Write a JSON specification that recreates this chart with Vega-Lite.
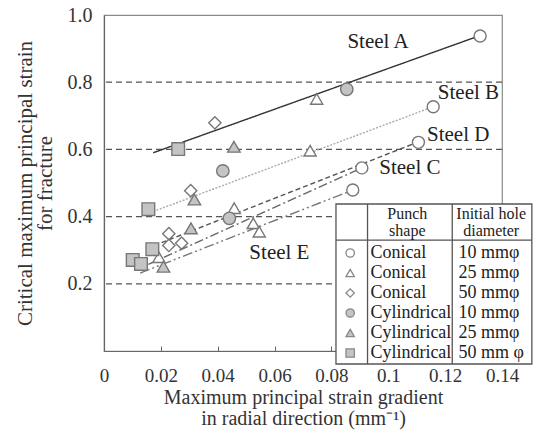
{
  "$schema": "https://vega.github.io/schema/vega-lite/v6.json",
  "width": 398,
  "height": 336,
  "autosize": {"type": "none"},
  "padding": {"left": 104, "top": 15, "right": 37, "bottom": 95},
  "background": "white",
  "config": {
    "font": "Liberation Serif",
    "view": {"stroke": "#8a8a8a", "strokeWidth": 1.2},
    "axis": {"labelFont": "Liberation Serif", "titleFont": "Liberation Serif", "labelColor": "#333", "titleColor": "#333", "titleFontWeight": "normal", "domainColor": "#666", "domainWidth": 1.2, "grid": false, "zindex": 0}
  },
  "datasets": {
    "grid": [{"gy": 0.2}, {"gy": 0.4}, {"gy": 0.6}, {"gy": 0.8}],
    "lines": [
      {"steel": "A", "x": 0.0173, "y": 0.590}, {"steel": "A", "x": 0.132, "y": 0.938},
      {"steel": "B", "x": 0.0173, "y": 0.415}, {"steel": "B", "x": 0.1158, "y": 0.727},
      {"steel": "D", "x": 0.015, "y": 0.305}, {"steel": "D", "x": 0.1105, "y": 0.622},
      {"steel": "C", "x": 0.0156, "y": 0.258}, {"steel": "C", "x": 0.0907, "y": 0.545},
      {"steel": "E", "x": 0.0127, "y": 0.232}, {"steel": "E", "x": 0.0875, "y": 0.479}
    ],
    "points": [
      {"x": 0.1323, "y": 0.9375, "kind": "Conical 10"},
      {"x": 0.1158, "y": 0.727, "kind": "Conical 10"},
      {"x": 0.1106, "y": 0.621, "kind": "Conical 10"},
      {"x": 0.0907, "y": 0.545, "kind": "Conical 10"},
      {"x": 0.0875, "y": 0.479, "kind": "Conical 10"},
      {"x": 0.0748, "y": 0.750, "kind": "Conical 25"},
      {"x": 0.0725, "y": 0.596, "kind": "Conical 25"},
      {"x": 0.0458, "y": 0.425, "kind": "Conical 25"},
      {"x": 0.0525, "y": 0.380, "kind": "Conical 25"},
      {"x": 0.0546, "y": 0.355, "kind": "Conical 25"},
      {"x": 0.0193, "y": 0.279, "kind": "Conical 25"},
      {"x": 0.0390, "y": 0.679, "kind": "Conical 50"},
      {"x": 0.0305, "y": 0.477, "kind": "Conical 50"},
      {"x": 0.0228, "y": 0.349, "kind": "Conical 50"},
      {"x": 0.0228, "y": 0.314, "kind": "Conical 50"},
      {"x": 0.0273, "y": 0.321, "kind": "Conical 50"},
      {"x": 0.0854, "y": 0.779, "kind": "Cylindrical 10"},
      {"x": 0.0418, "y": 0.536, "kind": "Cylindrical 10"},
      {"x": 0.0441, "y": 0.395, "kind": "Cylindrical 10"},
      {"x": 0.0457, "y": 0.608, "kind": "Cylindrical 25"},
      {"x": 0.0318, "y": 0.451, "kind": "Cylindrical 25"},
      {"x": 0.0306, "y": 0.365, "kind": "Cylindrical 25"},
      {"x": 0.0209, "y": 0.251, "kind": "Cylindrical 25"},
      {"x": 0.0261, "y": 0.601, "kind": "Cylindrical 50"},
      {"x": 0.0156, "y": 0.422, "kind": "Cylindrical 50"},
      {"x": 0.0170, "y": 0.303, "kind": "Cylindrical 50"},
      {"x": 0.0101, "y": 0.271, "kind": "Cylindrical 50"},
      {"x": 0.0130, "y": 0.259, "kind": "Cylindrical 50"}
    ],
    "labels": [
      {"x": 0.0964, "y": 0.920, "t": "Steel A"},
      {"x": 0.1282, "y": 0.767, "t": "Steel B"},
      {"x": 0.1246, "y": 0.643, "t": "Steel D"},
      {"x": 0.1076, "y": 0.544, "t": "Steel C"},
      {"x": 0.0617, "y": 0.291, "t": "Steel E"}
    ],
    "legendBox": [{"x1": 0.0816, "x2": 0.1505, "y1": -0.0387, "y2": 0.4375}],
    "legendRules": [
      {"x1": 0.0927, "x2": 0.0927, "y1": -0.0387, "y2": 0.4375},
      {"x1": 0.1225, "x2": 0.1225, "y1": -0.0387, "y2": 0.4375},
      {"x1": 0.0816, "x2": 0.1505, "y1": 0.330, "y2": 0.330}
    ],
    "legendRows": [
      {"kind": "Conical 10", "y": 0.2917, "shape": "Conical", "diam": "10 mmφ"},
      {"kind": "Conical 25", "y": 0.2320, "shape": "Conical", "diam": "25 mmφ"},
      {"kind": "Conical 50", "y": 0.1726, "shape": "Conical", "diam": "50 mmφ"},
      {"kind": "Cylindrical 10", "y": 0.1130, "shape": "Cylindrical", "diam": "10 mmφ"},
      {"kind": "Cylindrical 25", "y": 0.0536, "shape": "Cylindrical", "diam": "25 mmφ"},
      {"kind": "Cylindrical 50", "y": -0.0060, "shape": "Cylindrical", "diam": "50 mm φ"}
    ],
    "legendHead": [
      {"x": 0.1067, "y": 0.4077, "t": "Punch"},
      {"x": 0.1067, "y": 0.3580, "t": "shape"},
      {"x": 0.1362, "y": 0.4077, "t": "Initial hole"},
      {"x": 0.1362, "y": 0.3580, "t": "diameter"}
    ]
  },
  "layer": [
    {
      "data": {"name": "grid"},
      "mark": {"type": "rule", "color": "#555", "strokeWidth": 1.3, "strokeDash": [6, 4]},
      "encoding": {
        "y": {"field": "gy", "type": "quantitative", "scale": {"domain": [0, 1], "nice": false, "zero": false},
          "axis": {"values": [0.2, 0.4, 0.6, 0.8, 1.0], "format": ".1f", "ticks": false, "labelFontSize": 20, "labelPadding": 12,
            "title": ["Critical maximum principal strain", "for fracture"], "titleFontSize": 21, "titleLineHeight": 20, "titlePadding": 12}}
      }
    },
    {
      "data": {"name": "lines"},
      "mark": {"type": "line", "strokeWidth": 1.4},
      "encoding": {
        "x": {"field": "x", "type": "quantitative", "scale": {"domain": [0, 0.14], "nice": false, "zero": false},
          "axis": {"values": [0, 0.02, 0.04, 0.06, 0.08, 0.1, 0.12, 0.14], "format": "~g", "tickSize": -5, "tickColor": "#666", "labelFontSize": 19, "labelPadding": 20, "labelFlush": false,
            "title": ["Maximum principal strain gradient", "in radial direction (mm⁻¹)"], "titleFontSize": 20, "titleLineHeight": 21, "titlePadding": 2}},
        "y": {"field": "y", "type": "quantitative", "scale": {"domain": [0, 1], "nice": false, "zero": false}},
        "detail": {"field": "steel"},
        "color": {"field": "steel", "type": "nominal", "legend": null,
          "scale": {"domain": ["A", "B", "C", "D", "E"], "range": ["#333333", "#aaaaaa", "#666666", "#555555", "#777777"]}},
        "strokeDash": {"field": "steel", "type": "nominal", "legend": null,
          "scale": {"domain": ["A", "B", "C", "D", "E"], "range": [[1, 0], [2, 1.5], [9, 3, 2, 3], [5, 3], [10, 3, 2, 3, 2, 3]]}}
      }
    },
    {
      "data": {"name": "points"},
      "mark": {"type": "point", "filled": false, "stroke": "#777", "strokeWidth": 1.4, "opacity": 1},
      "encoding": {
        "x": {"field": "x", "type": "quantitative", "scale": {"domain": [0, 0.14], "nice": false, "zero": false}},
        "y": {"field": "y", "type": "quantitative", "scale": {"domain": [0, 1], "nice": false, "zero": false}},
        "shape": {"field": "kind", "type": "nominal", "legend": null,
          "scale": {"domain": ["Conical 10", "Conical 25", "Conical 50", "Cylindrical 10", "Cylindrical 25", "Cylindrical 50"], "range": ["circle", "triangle-up", "diamond", "circle", "triangle-up", "square"]}},
        "fill": {"field": "kind", "type": "nominal", "legend": null,
          "scale": {"domain": ["Conical 10", "Conical 25", "Conical 50", "Cylindrical 10", "Cylindrical 25", "Cylindrical 50"], "range": ["#ffffff", "#ffffff", "#ffffff", "#c4c4c4", "#c4c4c4", "#c4c4c4"]}},
        "size": {"field": "kind", "type": "nominal", "legend": null,
          "scale": {"domain": ["Conical 10", "Conical 25", "Conical 50", "Cylindrical 10", "Cylindrical 25", "Cylindrical 50"], "range": [144, 160, 210, 270, 160, 170]}}
      }
    },
    {
      "data": {"name": "labels"},
      "mark": {"type": "text", "fontSize": 21, "color": "#222", "align": "center", "baseline": "middle"},
      "encoding": {
        "x": {"field": "x", "type": "quantitative", "scale": {"domain": [0, 0.14], "nice": false, "zero": false}},
        "y": {"field": "y", "type": "quantitative", "scale": {"domain": [0, 1], "nice": false, "zero": false}},
        "text": {"field": "t"}
      }
    },
    {
      "data": {"name": "legendBox"},
      "mark": {"type": "rect", "fill": "white", "stroke": "#555", "strokeWidth": 1.3},
      "encoding": {
        "x": {"field": "x1", "type": "quantitative", "scale": {"domain": [0, 0.14], "nice": false, "zero": false}},
        "x2": {"field": "x2"},
        "y": {"field": "y1", "type": "quantitative", "scale": {"domain": [0, 1], "nice": false, "zero": false}},
        "y2": {"field": "y2"}
      }
    },
    {
      "data": {"name": "legendRules"},
      "mark": {"type": "rule", "color": "#555", "strokeWidth": 1.3},
      "encoding": {
        "x": {"field": "x1", "type": "quantitative", "scale": {"domain": [0, 0.14], "nice": false, "zero": false}},
        "x2": {"field": "x2"},
        "y": {"field": "y1", "type": "quantitative", "scale": {"domain": [0, 1], "nice": false, "zero": false}},
        "y2": {"field": "y2"}
      }
    },
    {
      "data": {"name": "legendRows"},
      "mark": {"type": "point", "filled": false, "stroke": "#888", "strokeWidth": 1.3, "size": 70, "opacity": 1},
      "encoding": {
        "x": {"datum": 0.0866, "type": "quantitative", "scale": {"domain": [0, 0.14], "nice": false, "zero": false}},
        "y": {"field": "y", "type": "quantitative", "scale": {"domain": [0, 1], "nice": false, "zero": false}},
        "shape": {"field": "kind", "type": "nominal", "legend": null},
        "fill": {"field": "kind", "type": "nominal", "legend": null}
      }
    },
    {
      "data": {"name": "legendRows"},
      "mark": {"type": "text", "fontSize": 18, "color": "#222", "align": "left", "baseline": "middle"},
      "encoding": {
        "x": {"datum": 0.0937, "type": "quantitative", "scale": {"domain": [0, 0.14], "nice": false, "zero": false}},
        "y": {"field": "y", "type": "quantitative", "scale": {"domain": [0, 1], "nice": false, "zero": false}},
        "text": {"field": "shape"}
      }
    },
    {
      "data": {"name": "legendRows"},
      "mark": {"type": "text", "fontSize": 18, "color": "#222", "align": "left", "baseline": "middle"},
      "encoding": {
        "x": {"datum": 0.1247, "type": "quantitative", "scale": {"domain": [0, 0.14], "nice": false, "zero": false}},
        "y": {"field": "y", "type": "quantitative", "scale": {"domain": [0, 1], "nice": false, "zero": false}},
        "text": {"field": "diam"}
      }
    },
    {
      "data": {"name": "legendHead"},
      "mark": {"type": "text", "fontSize": 16, "color": "#222", "align": "center", "baseline": "middle"},
      "encoding": {
        "x": {"field": "x", "type": "quantitative", "scale": {"domain": [0, 0.14], "nice": false, "zero": false}},
        "y": {"field": "y", "type": "quantitative", "scale": {"domain": [0, 1], "nice": false, "zero": false}},
        "text": {"field": "t"}
      }
    }
  ]
}
